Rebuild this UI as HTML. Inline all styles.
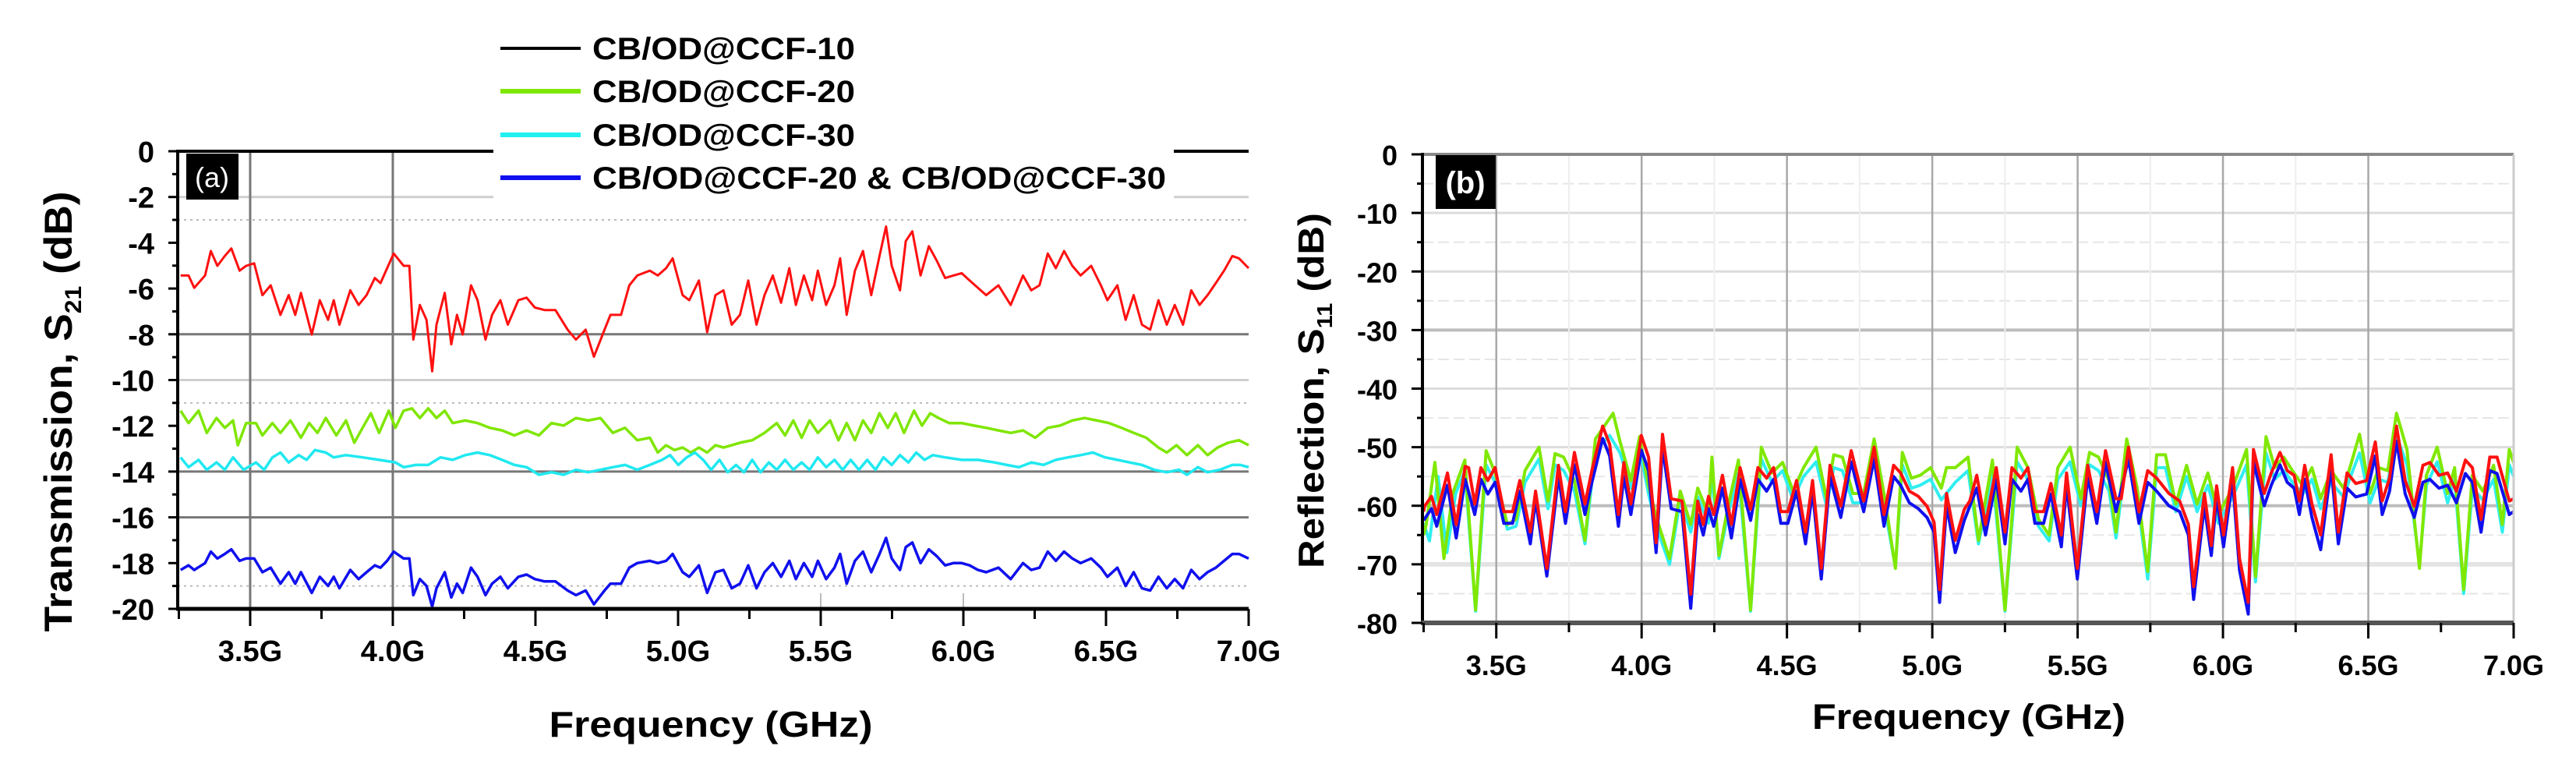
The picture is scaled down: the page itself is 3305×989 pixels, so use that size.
<!DOCTYPE html>
<html><head><meta charset="utf-8">
<style>
html,body{margin:0;padding:0;background:#fff;}
svg{display:block;}
text{font-family:"Liberation Sans",Arial,sans-serif;font-weight:bold;fill:#000;}
</style></head>
<body>
<svg id="fig" width="3305" height="989" viewBox="0 0 3305 989" xmlns="http://www.w3.org/2000/svg">
  <rect x="0" y="0" width="3305" height="989" fill="#fff"/>
  <g id="panelA"></g>
  <g id="panelB"></g>
</svg>
<script>
// ---------- Panel (a) data ----------
const xTickLabels = ["3.5G","4.0G","4.5G","5.0G","5.5G","6.0G","6.5G","7.0G"];
const xTickValues = [3.5,4.0,4.5,5.0,5.5,6.0,6.5,7.0];
const yTicksA = [0,-2,-4,-6,-8,-10,-12,-14,-16,-18,-20];
const yTicksB = [0,-10,-20,-30,-40,-50,-60,-70,-80];

const freqA = [3.256,3.284,3.304,3.342,3.362,3.385,3.411,3.434,3.463,3.486,
3.514,3.543,3.572,3.606,3.635,3.658,3.678,3.716,3.744,3.773,
3.793,3.813,3.851,3.880,3.908,3.937,3.957,3.980,4.003,4.038,
4.058,4.072,4.095,4.118,4.138,4.153,4.182,4.205,4.225,4.245,
4.274,4.297,4.325,4.348,4.377,4.403,4.440,4.469,4.498,4.532,
4.570,4.613,4.642,4.676,4.705,4.742,4.763,4.800,4.829,4.857,
4.901,4.929,4.958,4.981,5.016,5.039,5.073,5.102,5.131,5.159,
5.188,5.217,5.246,5.275,5.303,5.332,5.361,5.390,5.413,5.441,
5.470,5.490,5.519,5.548,5.568,5.591,5.620,5.648,5.677,5.706,
5.729,5.749,5.778,5.798,5.821,5.850,5.879,5.907,5.936,5.965,
5.994,6.022,6.051,6.080,6.123,6.166,6.209,6.238,6.267,6.296,
6.324,6.353,6.382,6.411,6.448,6.482,6.505,6.540,6.569,6.597,
6.626,6.655,6.684,6.713,6.741,6.770,6.799,6.828,6.856,6.885,
6.914,6.943,6.966,7.000];
const s21Red = [-5.43,-5.43,-5.97,-5.43,-4.36,-5.01,-4.58,-4.25,-5.22,-5.01,
-4.90,-6.29,-5.86,-7.15,-6.29,-7.15,-6.19,-8.01,-6.51,-7.37,
-6.51,-7.58,-6.08,-6.72,-6.29,-5.54,-5.76,-5.11,-4.47,-5.01,
-5.01,-8.23,-6.72,-7.37,-9.62,-7.58,-6.19,-8.44,-7.15,-8.01,
-5.86,-6.51,-8.23,-7.15,-6.51,-7.58,-6.51,-6.40,-6.83,-6.94,
-6.94,-7.80,-8.23,-7.80,-8.98,-7.80,-7.15,-7.15,-5.86,-5.43,
-5.22,-5.43,-5.11,-4.68,-6.29,-6.51,-5.65,-7.91,-6.29,-6.08,
-7.58,-7.15,-5.65,-7.58,-6.29,-5.43,-6.62,-5.11,-6.72,-5.43,
-6.51,-5.22,-6.72,-5.86,-4.68,-7.15,-5.22,-4.36,-6.29,-4.58,
-3.29,-5.01,-6.08,-3.93,-3.50,-5.43,-4.15,-4.79,-5.54,-5.43,
-5.33,-5.65,-5.97,-6.29,-5.86,-6.72,-5.43,-6.08,-5.86,-4.47,
-5.11,-4.36,-5.01,-5.43,-5.01,-5.86,-6.51,-5.86,-7.37,-6.29,
-7.58,-7.80,-6.51,-7.58,-6.72,-7.58,-6.08,-6.72,-6.29,-5.76,
-5.22,-4.58,-4.68,-5.11];
const s21Blue = [-18.3,-18.1,-18.3,-18.0,-17.5,-17.8,-17.6,-17.4,-17.9,-17.8,
-17.8,-18.4,-18.2,-18.9,-18.4,-18.9,-18.4,-19.3,-18.6,-19.0,
-18.6,-19.1,-18.3,-18.7,-18.4,-18.1,-18.2,-17.9,-17.5,-17.8,
-17.8,-19.4,-18.7,-19.0,-19.9,-19.1,-18.4,-19.5,-18.9,-19.3,
-18.2,-18.6,-19.4,-18.9,-18.6,-19.1,-18.6,-18.5,-18.7,-18.8,
-18.8,-19.2,-19.4,-19.2,-19.8,-19.2,-18.9,-18.9,-18.2,-18.0,
-17.9,-18.0,-17.9,-17.6,-18.4,-18.6,-18.1,-19.3,-18.4,-18.3,
-19.1,-18.9,-18.1,-19.1,-18.4,-18.0,-18.6,-17.9,-18.7,-18.0,
-18.6,-17.9,-18.7,-18.2,-17.6,-18.9,-17.9,-17.5,-18.4,-17.6,
-16.9,-17.8,-18.3,-17.3,-17.1,-18.0,-17.4,-17.7,-18.1,-18.0,
-18.0,-18.1,-18.3,-18.4,-18.2,-18.7,-18.0,-18.3,-18.2,-17.5,
-17.9,-17.5,-17.8,-18.0,-17.8,-18.2,-18.6,-18.2,-19.0,-18.4,
-19.1,-19.2,-18.6,-19.1,-18.7,-19.1,-18.3,-18.7,-18.4,-18.2,
-17.9,-17.6,-17.6,-17.8];
const freqGreenA = [3.256,3.284,3.319,3.348,3.382,3.411,3.440,3.457,3.486,3.520,
3.543,3.578,3.606,3.641,3.678,3.707,3.736,3.765,3.802,3.836,
3.865,3.894,3.923,3.952,3.986,4.009,4.038,4.067,4.095,4.124,
4.153,4.182,4.210,4.254,4.297,4.340,4.383,4.426,4.469,4.512,
4.556,4.599,4.642,4.685,4.728,4.771,4.814,4.857,4.901,4.929,
4.958,4.987,5.016,5.044,5.073,5.102,5.131,5.159,5.188,5.217,
5.260,5.303,5.346,5.375,5.404,5.433,5.461,5.490,5.533,5.562,
5.591,5.620,5.648,5.677,5.706,5.735,5.763,5.792,5.827,5.855,
5.884,5.913,5.950,5.994,6.037,6.080,6.123,6.166,6.209,6.252,
6.296,6.339,6.382,6.425,6.468,6.511,6.554,6.597,6.641,6.684,
6.713,6.747,6.784,6.822,6.856,6.891,6.928,6.966,7.000];
const s21Green = [-11.34,-11.88,-11.34,-12.31,-11.66,-12.09,-11.77,-12.85,-11.88,-11.88,
-12.42,-11.88,-12.31,-11.77,-12.52,-11.88,-12.31,-11.66,-12.42,-11.77,
-12.74,-12.09,-11.45,-12.31,-11.34,-12.09,-11.34,-11.24,-11.66,-11.24,
-11.66,-11.34,-11.88,-11.77,-11.88,-12.09,-12.20,-12.42,-12.20,-12.42,
-11.88,-11.99,-11.66,-11.77,-11.66,-12.31,-12.09,-12.63,-12.52,-13.17,
-12.85,-13.06,-12.95,-13.17,-12.95,-13.17,-12.85,-12.95,-12.85,-12.74,
-12.63,-12.31,-11.88,-12.42,-11.77,-12.52,-11.77,-12.31,-11.77,-12.63,
-11.88,-12.63,-11.77,-12.31,-11.45,-12.09,-11.45,-12.31,-11.34,-11.99,
-11.45,-11.66,-11.88,-11.88,-11.99,-12.09,-12.20,-12.31,-12.20,-12.52,
-12.09,-11.99,-11.77,-11.66,-11.77,-11.88,-12.09,-12.31,-12.52,-12.95,
-13.17,-12.85,-13.28,-12.85,-13.28,-12.95,-12.74,-12.63,-12.85];
const freqCyanA = [3.256,3.284,3.319,3.348,3.382,3.411,3.440,3.477,3.520,3.549,
3.578,3.606,3.635,3.670,3.698,3.727,3.765,3.793,3.836,3.894,
3.952,4.009,4.038,4.081,4.124,4.167,4.210,4.254,4.297,4.340,
4.383,4.426,4.469,4.512,4.556,4.599,4.642,4.685,4.728,4.771,
4.814,4.857,4.901,4.944,4.972,5.001,5.030,5.059,5.088,5.116,
5.145,5.174,5.203,5.231,5.260,5.289,5.318,5.346,5.375,5.404,
5.433,5.461,5.490,5.519,5.548,5.577,5.605,5.634,5.663,5.692,
5.720,5.749,5.778,5.807,5.835,5.864,5.893,5.936,5.994,6.051,
6.109,6.152,6.195,6.238,6.281,6.324,6.367,6.411,6.454,6.497,
6.540,6.583,6.626,6.669,6.713,6.756,6.784,6.822,6.856,6.899,
6.943,6.971,7.000];
const s21Cyan = [-13.38,-13.81,-13.49,-13.92,-13.60,-13.92,-13.38,-13.92,-13.60,-13.92,
-13.38,-13.17,-13.60,-13.28,-13.49,-13.06,-13.17,-13.38,-13.28,-13.38,
-13.49,-13.60,-13.81,-13.71,-13.71,-13.38,-13.49,-13.28,-13.17,-13.28,
-13.49,-13.71,-13.81,-14.14,-14.03,-14.14,-13.92,-14.03,-13.92,-13.81,
-13.71,-13.92,-13.71,-13.49,-13.28,-13.71,-13.38,-13.17,-13.49,-13.92,
-13.49,-14.03,-13.71,-14.03,-13.49,-14.03,-13.60,-13.92,-13.49,-13.92,
-13.60,-13.92,-13.38,-13.81,-13.49,-13.92,-13.49,-13.92,-13.49,-13.92,
-13.38,-13.71,-13.28,-13.60,-13.17,-13.49,-13.28,-13.38,-13.49,-13.49,
-13.60,-13.71,-13.81,-13.60,-13.71,-13.49,-13.38,-13.28,-13.17,-13.38,
-13.49,-13.60,-13.71,-13.92,-14.03,-13.92,-14.14,-13.81,-14.03,-13.92,
-13.71,-13.71,-13.81];

// ---------- Panel (b) data: [freq GHz, S11 dB] ----------
const s11Red = [[3.250,-61.0],[3.253,-60.1],[3.277,-58.4],[3.295,-61.5],[3.332,-54.4],[3.362,-63.2],[3.393,-53.3],[3.405,-53.5],[3.426,-59.7],[3.447,-53.5],
[3.471,-55.7],[3.496,-53.5],[3.526,-61.0],[3.556,-61.0],[3.581,-55.7],[3.617,-64.5],[3.635,-57.5],[3.674,-70.7],[3.714,-53.1],[3.738,-61.0],
[3.769,-50.9],[3.805,-59.7],[3.829,-54.0],[3.866,-46.4],[3.890,-49.5],[3.920,-61.5],[3.939,-52.6],[3.963,-59.7],[3.999,-48.0],[4.024,-51.7],
[4.050,-66.3],[4.072,-47.8],[4.102,-58.8],[4.139,-59.2],[4.169,-75.1],[4.193,-59.2],[4.212,-63.2],[4.230,-58.4],[4.248,-61.5],[4.278,-54.8],
[4.309,-63.2],[4.339,-53.5],[4.375,-60.6],[4.400,-53.5],[4.430,-55.3],[4.454,-53.5],[4.479,-61.0],[4.503,-61.0],[4.533,-55.7],[4.564,-64.5],
[4.588,-55.7],[4.618,-70.7],[4.648,-53.1],[4.685,-60.1],[4.721,-50.6],[4.764,-59.2],[4.800,-50.0],[4.834,-61.5],[4.867,-53.1],[4.891,-54.4],
[4.921,-57.5],[4.952,-58.4],[4.982,-60.1],[5.006,-62.8],[5.025,-74.3],[5.049,-57.9],[5.079,-65.9],
[5.110,-60.6],[5.129,-59.2],[5.153,-54.8],[5.183,-63.2],[5.220,-53.5],[5.250,-64.5],[5.274,-53.5],[5.305,-55.3],[5.329,-53.5],[5.353,-61.0],
[5.383,-61.0],[5.408,-56.2],[5.444,-65.0],[5.462,-54.4],[5.499,-70.7],[5.535,-53.1],[5.566,-61.0],[5.596,-50.6],[5.632,-58.8],[5.650,-58.8],
[5.675,-50.0],[5.711,-61.0],[5.741,-54.0],[5.772,-55.3],[5.814,-57.9],[5.851,-59.2],[5.881,-63.2],[5.899,-73.8],[5.936,-57.9],[5.960,-66.8],
[5.978,-56.6],[6.002,-65.0],[6.033,-53.5],[6.057,-69.0],[6.087,-76.5],[6.105,-50.4],[6.142,-57.9],[6.166,-54.4],[6.196,-50.9],[6.221,-54.0],
[6.245,-54.8],[6.263,-59.2],[6.281,-53.1],[6.306,-59.7],[6.336,-65.0],[6.372,-51.3],[6.397,-64.5],[6.427,-54.4],[6.457,-56.2],[6.494,-55.7],
[6.524,-49.1],[6.548,-59.2],[6.573,-55.3],[6.597,-46.4],[6.627,-55.7],[6.658,-60.1],[6.688,-53.1],[6.712,-52.6],[6.743,-54.8],[6.773,-54.4],
[6.803,-57.5],[6.834,-52.2],[6.858,-53.5],[6.888,-62.3],[6.918,-51.7],[6.943,-51.7],[6.985,-59.2],[7.000,-58.8]];
const s11Blue = [[3.250,-62.5],[3.277,-60.5],[3.295,-63.5],[3.332,-56.5],[3.362,-65.5],[3.393,-55.5],[3.426,-61.5],[3.447,-55.5],[3.471,-58.0],[3.496,-56.0],
[3.526,-63.0],[3.556,-63.0],[3.581,-57.5],[3.617,-66.5],[3.635,-59.0],[3.674,-72.0],[3.714,-55.0],[3.738,-63.0],[3.769,-53.0],[3.805,-61.5],
[3.829,-56.0],[3.866,-48.5],[3.890,-51.5],[3.920,-63.5],[3.939,-55.0],[3.963,-61.5],[3.999,-50.5],[4.024,-54.0],[4.050,-68.0],[4.072,-50.0],
[4.102,-60.5],[4.139,-61.0],[4.169,-77.5],[4.193,-61.5],[4.212,-65.0],[4.230,-60.5],[4.248,-63.5],[4.278,-57.0],[4.309,-65.5],[4.339,-55.5],
[4.375,-62.5],[4.400,-55.5],[4.430,-57.5],[4.454,-55.5],[4.479,-63.0],[4.503,-63.0],[4.533,-57.5],[4.564,-66.5],[4.588,-57.5],[4.618,-72.5],
[4.648,-55.0],[4.685,-62.0],[4.721,-52.5],[4.764,-61.0],[4.800,-52.0],[4.834,-63.5],[4.867,-55.0],[4.891,-56.5],[4.921,-59.5],[4.952,-60.5],
[4.982,-62.0],[5.006,-64.5],[5.025,-76.5],[5.049,-60.0],[5.079,-68.0],[5.110,-62.5],[5.153,-57.0],[5.183,-65.0],[5.220,-55.5],[5.250,-66.5],
[5.274,-55.5],[5.305,-57.5],[5.329,-55.5],[5.353,-63.0],[5.383,-63.0],[5.408,-58.0],[5.444,-67.0],[5.462,-56.5],[5.499,-72.5],[5.535,-55.0],
[5.566,-63.0],[5.596,-52.5],[5.632,-61.0],[5.675,-52.0],[5.711,-63.0],[5.741,-56.0],[5.772,-57.5],[5.814,-60.0],[5.851,-61.0],[5.881,-65.0],
[5.899,-76.0],[5.936,-60.0],[5.960,-68.5],[5.978,-58.5],[6.002,-67.0],[6.033,-55.5],[6.057,-71.0],[6.087,-78.5],[6.105,-52.5],[6.142,-60.0],
[6.166,-56.5],[6.196,-53.0],[6.221,-56.0],[6.245,-57.0],[6.263,-61.5],[6.281,-55.5],[6.306,-62.0],[6.336,-67.5],[6.372,-53.5],[6.397,-66.5],
[6.427,-57.0],[6.457,-58.5],[6.494,-58.0],[6.524,-51.5],[6.548,-61.5],[6.573,-57.5],[6.597,-49.0],[6.627,-58.0],[6.658,-62.0],[6.688,-56.0],
[6.712,-55.5],[6.743,-57.0],[6.773,-56.5],[6.803,-59.5],[6.834,-54.5],[6.858,-56.0],[6.888,-64.5],[6.918,-54.0],[6.943,-54.5],[6.985,-61.5],
[7.000,-61.0]];
const s11Green = [[3.250,-65.0],[3.259,-63.2],[3.289,-52.6],[3.320,-69.0],[3.350,-57.9],[3.392,-52.2],[3.429,-77.8],[3.465,-50.6],[3.496,-54.4],[3.538,-63.2],
[3.568,-62.3],[3.599,-54.0],[3.647,-50.0],[3.678,-59.2],[3.702,-51.1],[3.732,-51.7],[3.769,-55.7],[3.805,-65.9],[3.841,-48.6],[3.902,-44.2],
[3.926,-49.1],[3.963,-55.7],[3.993,-48.2],[4.024,-56.6],[4.050,-61.9],[4.096,-69.0],[4.133,-57.5],[4.169,-63.2],[4.193,-57.0],[4.230,-61.5],
[4.242,-51.7],[4.266,-68.5],[4.297,-60.1],[4.333,-52.2],[4.375,-77.8],[4.412,-50.0],[4.448,-54.4],[4.485,-52.6],[4.521,-57.5],[4.557,-53.5],
[4.600,-50.0],[4.636,-58.8],[4.661,-51.3],[4.691,-51.7],[4.727,-57.9],[4.764,-57.9],[4.800,-48.6],[4.837,-58.8],[4.873,-70.7],[4.897,-50.9],
[4.928,-55.3],[4.958,-54.8],[4.994,-53.5],[5.031,-57.0],[5.049,-53.5],[5.079,-53.5],[5.123,-51.7],[5.159,-65.9],[5.207,-52.2],[5.250,-77.8],
[5.292,-50.0],[5.329,-53.5],[5.365,-62.3],[5.402,-65.0],[5.432,-53.5],[5.474,-50.0],[5.511,-58.8],[5.541,-50.9],[5.572,-51.7],[5.608,-55.7],
[5.632,-64.5],[5.669,-48.6],[5.705,-57.0],[5.741,-71.2],[5.772,-51.3],[5.802,-51.3],[5.838,-59.7],[5.875,-53.1],[5.911,-59.7],[5.948,-54.4],
[5.984,-61.5],[6.033,-57.0],[6.081,-50.4],[6.112,-72.1],[6.148,-48.2],[6.178,-53.5],[6.209,-51.7],[6.239,-54.0],[6.275,-56.6],[6.306,-53.5],
[6.336,-58.8],[6.372,-54.0],[6.415,-57.0],[6.439,-53.1],[6.470,-47.8],[6.506,-57.9],[6.536,-53.5],[6.567,-54.0],[6.597,-44.2],[6.633,-50.4],
[6.676,-70.7],[6.700,-54.8],[6.737,-50.0],[6.773,-57.9],[6.797,-53.5],[6.828,-74.3],[6.858,-54.8],[6.894,-57.5],[6.931,-53.1],[6.961,-63.2],
[6.985,-50.4],[7.000,-52.6]];
const s11Cyan = [[3.250,-63.0],[3.270,-66.0],[3.300,-55.0],[3.330,-68.0],[3.360,-58.0],[3.392,-54.0],[3.429,-78.0],[3.465,-53.0],[3.496,-56.0],[3.538,-64.0],
[3.568,-63.5],[3.599,-56.0],[3.647,-52.0],[3.678,-60.5],[3.702,-53.0],[3.732,-54.0],[3.769,-57.5],[3.805,-66.5],[3.841,-50.5],[3.890,-48.0],
[3.926,-51.0],[3.963,-57.0],[3.993,-50.0],[4.024,-58.0],[4.050,-63.5],[4.096,-70.0],[4.133,-59.0],[4.169,-64.5],[4.193,-58.5],[4.230,-63.0],
[4.242,-54.0],[4.266,-69.0],[4.297,-61.5],[4.333,-54.5],[4.375,-78.0],[4.412,-52.0],[4.448,-56.0],[4.485,-54.0],[4.521,-59.0],[4.557,-55.0],
[4.600,-52.5],[4.636,-60.0],[4.661,-53.5],[4.691,-54.0],[4.727,-59.5],[4.764,-59.5],[4.800,-51.0],[4.837,-60.5],[4.873,-70.5],[4.897,-53.0],
[4.928,-57.0],[4.958,-56.5],[4.994,-55.5],[5.031,-59.0],[5.079,-56.0],[5.123,-54.0],[5.159,-66.5],[5.207,-54.5],[5.250,-78.0],[5.292,-52.5],
[5.329,-55.5],[5.365,-63.5],[5.402,-66.0],[5.432,-55.5],[5.474,-52.5],[5.511,-60.0],[5.541,-53.0],[5.572,-54.0],[5.608,-57.5],[5.632,-65.5],
[5.669,-51.0],[5.705,-58.5],[5.741,-72.5],[5.772,-53.5],[5.802,-53.5],[5.838,-61.0],[5.875,-55.0],[5.911,-61.0],[5.948,-56.5],[5.984,-63.0],
[6.033,-58.5],[6.081,-53.0],[6.112,-73.0],[6.148,-51.0],[6.178,-55.5],[6.209,-54.0],[6.239,-56.0],[6.275,-58.0],[6.306,-55.5],[6.336,-60.5],
[6.372,-56.0],[6.415,-58.5],[6.439,-55.0],[6.470,-51.0],[6.506,-59.5],[6.536,-55.5],[6.567,-56.0],[6.597,-48.0],[6.633,-53.0],[6.676,-70.0],
[6.700,-56.5],[6.737,-52.5],[6.773,-59.5],[6.797,-55.5],[6.828,-75.0],[6.858,-57.0],[6.894,-59.0],[6.931,-55.5],[6.961,-64.5],[6.985,-53.0],
[7.000,-55.0]];

const NS = "http://www.w3.org/2000/svg";
function mk(tag, attrs, parent){
  const e = document.createElementNS(NS, tag);
  for (const k in attrs) e.setAttribute(k, attrs[k]);
  parent.appendChild(e);
  return e;
}
const XMIN = 3.246, XMAX = 7.0;

// ===== Panel A =====
const A = document.getElementById('panelA');
const aL = 228, aR = 1602, aT = 194, aB = 781;
const xA = f => aL + (f - XMIN) / (XMAX - XMIN) * (aR - aL);
const yA = v => aT + (0 - v) / 20 * (aB - aT);

// grid lines
const gridA = [
  {v:-2, c:"#cfcfcf", w:3, d:""},{v:-3, c:"#bbb", w:2, d:"3,5"},
  {v:-8, c:"#777", w:3, d:""},{v:-10, c:"#cfcfcf", w:3, d:""},
  {v:-11, c:"#bbb", w:2, d:"3,5"},{v:-14, c:"#777", w:3, d:""},
  {v:-16, c:"#777", w:3, d:""},{v:-19, c:"#bbb", w:2, d:"3,5"}
];
gridA.forEach(g => {
  const l = mk('line', {x1:aL, x2:aR, y1:yA(g.v), y2:yA(g.v), stroke:g.c, 'stroke-width':g.w, 'stroke-dasharray':g.d}, A);
  
  
});
[3.5, 4.0].forEach(f => {
  const l = mk('line', {x1:xA(f), x2:xA(f), y1:aT, y2:aB, stroke:"#777", 'stroke-width':3}, A);
  
  
});
[5.5, 6.0].forEach(f => {
  const l = mk('line', {x1:xA(f), x2:xA(f), y1:aB-20, y2:aB, stroke:"#bbb", 'stroke-width':2}, A);
  
  
});

function seriesPath(parent, fx, fy, xs, ys, color, w, name){
  let d = "";
  const n = Math.min(xs.length, ys.length);
  for (let i = 0; i < n; i++) d += (i ? "L" : "M") + fx(xs[i]).toFixed(1) + "," + fy(ys[i]).toFixed(1);
  const p = mk('path', {d:d, fill:"none", stroke:color, 'stroke-width':w, 'stroke-linejoin':"round"}, parent);
  
  
  return p;
}
seriesPath(A, xA, yA, freqGreenA, s21Green, "#7fe600", 3.5, 'series-ccf-20');
seriesPath(A, xA, yA, freqCyanA, s21Cyan, "#20e8f0", 3.5, 'series-ccf-30');
seriesPath(A, xA, yA, freqA, s21Red, "#ff1010", 3, 'series-ccf-10');
seriesPath(A, xA, yA, freqA, s21Blue, "#1010ee", 3.5, 'series-ccf-20-and-30');

// axes
let ax = mk('line', {x1:aL, x2:aL, y1:aT-2, y2:aB+2, stroke:"#000", 'stroke-width':4}, A);
 
ax = mk('line', {x1:aL-2, x2:aR, y1:aB, y2:aB, stroke:"#000", 'stroke-width':5}, A);
 
ax = mk('line', {x1:aL, x2:633, y1:aT, y2:aT, stroke:"#000", 'stroke-width':4}, A);
 
ax = mk('line', {x1:1506, x2:aR, y1:aT, y2:aT, stroke:"#000", 'stroke-width':4}, A);
 

// x ticks A
for (let f = 3.25; f <= 7.001; f += 0.25) {
  const major = Math.abs(f*2 - Math.round(f*2)) < 1e-6;
  const t = mk('line', {x1:xA(f), x2:xA(f), y1:aB, y2:aB + (major ? 22 : 13), stroke:"#000", 'stroke-width':3}, A);
   
}
xTickValues.forEach((f, i) => {
  const t = mk('text', {x:xA(f), y:848, 'font-size':38, 'text-anchor':"middle"}, A);
  t.textContent = xTickLabels[i];
   
});
// y ticks A
for (let v = 0; v >= -20; v -= 1) {
  const major = v % 2 === 0;
  const t = mk('line', {x1:aL - (major ? 12 : 7), x2:aL, y1:yA(v), y2:yA(v), stroke:"#000", 'stroke-width':3}, A);
   
}
yTicksA.forEach(v => {
  const t = mk('text', {x:198, y:yA(v)+14, 'font-size':38, 'text-anchor':"end"}, A);
  t.textContent = v === 0 ? "0" : String(v);
   
});

// ===== Panel B =====
const B = document.getElementById('panelB');
const bL = 1825, bR = 3225, bT = 198, bB = 799;
const xB = f => bL + (f - XMIN) / (XMAX - XMIN) * (bR - bL);
const yB = v => bT + (0 - v) / 80 * (bB - bT);
for (let v = -5; v > -80; v -= 5) {
  const major = v % 10 === 0;
  let c = major ? "#dcdcdc" : "#e6e6e6", w = major ? 3 : 2, d = major ? "" : "14,6";
  if (v === -30 || v === -60) { c = "#bdbdbd"; w = 4; }
  if (v === -70) { c = "#e4e4e4"; w = 6; }
  const l = mk('line', {x1:bL, x2:bR, y1:yB(v), y2:yB(v), stroke:c, 'stroke-width':w, 'stroke-dasharray':d}, B);
   
}
for (let f = 3.5; f <= 6.51; f += 0.25) {
  const half = Math.abs(f*2 - Math.round(f*2)) < 1e-6;
  const l = mk('line', {x1:xB(f), x2:xB(f), y1:bT, y2:bB, stroke: half ? "#a8a8a8" : "#eeeeee", 'stroke-width': half ? 2.5 : 2}, B);
   
}
function pairPath(parent, arr, color, w, name){
  let d = "";
  arr.forEach((p, i) => { d += (i ? "L" : "M") + xB(p[0]).toFixed(1) + "," + yB(p[1]).toFixed(1); });
  const e = mk('path', {d:d, fill:"none", stroke:color, 'stroke-width':w, 'stroke-linejoin':"round"}, parent);
   
}
pairPath(B, s11Cyan, "#30eef0", 4, 'series-ccf-30');
pairPath(B, s11Green, "#80e800", 4, 'series-ccf-20');
pairPath(B, s11Blue, "#1010ee", 4, 'series-ccf-20-and-30');
pairPath(B, s11Red, "#ff1010", 4, 'series-ccf-10');

ax = mk('line', {x1:bL, x2:bR, y1:bT, y2:bT, stroke:"#888", 'stroke-width':4}, B);
 
ax = mk('line', {x1:bR, x2:bR, y1:bT, y2:bB, stroke:"#ccc", 'stroke-width':3}, B);
 
ax = mk('line', {x1:bL, x2:bL, y1:bT-2, y2:bB+3, stroke:"#000", 'stroke-width':4}, B);
 
ax = mk('line', {x1:bL-2, x2:bR, y1:bB, y2:bB, stroke:"#555", 'stroke-width':6}, B);
 
for (let f = 3.25; f <= 7.001; f += 0.25) {
  const major = Math.abs(f*2 - Math.round(f*2)) < 1e-6;
  const t = mk('line', {x1:xB(f), x2:xB(f), y1:bB, y2:bB + (major ? 20 : 12), stroke:"#000", 'stroke-width':3}, B);
   
}
xTickValues.forEach((f, i) => {
  const t = mk('text', {x:xB(f), y:866, 'font-size':36, 'text-anchor':"middle"}, B);
  t.textContent = xTickLabels[i];
   
});
for (let v = 0; v >= -80; v -= 5) {
  const major = v % 10 === 0;
  const t = mk('line', {x1:bL - (major ? 14 : 7), x2:bL, y1:yB(v), y2:yB(v), stroke:"#000", 'stroke-width':3}, B);
   
}
yTicksB.forEach(v => {
  const t = mk('text', {x:1793, y:yB(v)+14, 'font-size':36, 'text-anchor':"end"}, B);
  t.textContent = String(v);
   
});
</script>
<svg style="position:absolute;left:0;top:0" width="3305" height="989" viewBox="0 0 3305 989" xmlns="http://www.w3.org/2000/svg">
  <!-- legend (panel a) -->
  <g>
    <rect x="633" y="30" width="873" height="230" fill="#fff"/>
    <g>
      <line x1="642" y1="62" x2="745" y2="62" stroke="#000" stroke-width="4"/>
      <text x="760" y="76" font-size="40" textLength="337" lengthAdjust="spacingAndGlyphs">CB/OD@CCF-10</text>
    </g>
    <g>
      <line x1="642" y1="117" x2="745" y2="117" stroke="#7fe600" stroke-width="6"/>
      <text x="760" y="131" font-size="40" textLength="337" lengthAdjust="spacingAndGlyphs">CB/OD@CCF-20</text>
    </g>
    <g>
      <line x1="642" y1="173" x2="745" y2="173" stroke="#20f0f0" stroke-width="6"/>
      <text x="760" y="187" font-size="40" textLength="337" lengthAdjust="spacingAndGlyphs">CB/OD@CCF-30</text>
    </g>
    <g>
      <line x1="642" y1="228" x2="745" y2="228" stroke="#1010ee" stroke-width="6"/>
      <text x="760" y="242" font-size="40" textLength="736" lengthAdjust="spacingAndGlyphs">CB/OD@CCF-20 &amp; CB/OD@CCF-30</text>
    </g>
  </g>
  <!-- panel labels -->
  <g>
    <rect x="239" y="197" width="67" height="59" fill="#000"/>
    <text x="272" y="240" font-size="36" text-anchor="middle" style="fill:#fff;font-weight:normal">(a)</text>
  </g>
  <g>
    <rect x="1842" y="199" width="77" height="69" fill="#000"/>
    <text x="1880" y="248" font-size="40" text-anchor="middle" style="fill:#fff">(b)</text>
  </g>
  <!-- axis titles -->
  <text x="912" y="945" font-size="46" text-anchor="middle" textLength="415" lengthAdjust="spacingAndGlyphs">Frequency (GHz)</text>
  <text x="2526" y="935" font-size="45" text-anchor="middle" textLength="402" lengthAdjust="spacingAndGlyphs">Frequency (GHz)</text>
  <text transform="translate(92,528) rotate(-90)" font-size="50" text-anchor="middle" textLength="565" lengthAdjust="spacingAndGlyphs">Transmission, S<tspan font-size="30" dy="12">21</tspan><tspan dy="-12"> (dB)</tspan></text>
  <text transform="translate(1698,501) rotate(-90)" font-size="46" text-anchor="middle" textLength="456" lengthAdjust="spacingAndGlyphs">Reflection, S<tspan font-size="28" dy="11">11</tspan><tspan dy="-11"> (dB)</tspan></text>
</svg>
</body></html>
